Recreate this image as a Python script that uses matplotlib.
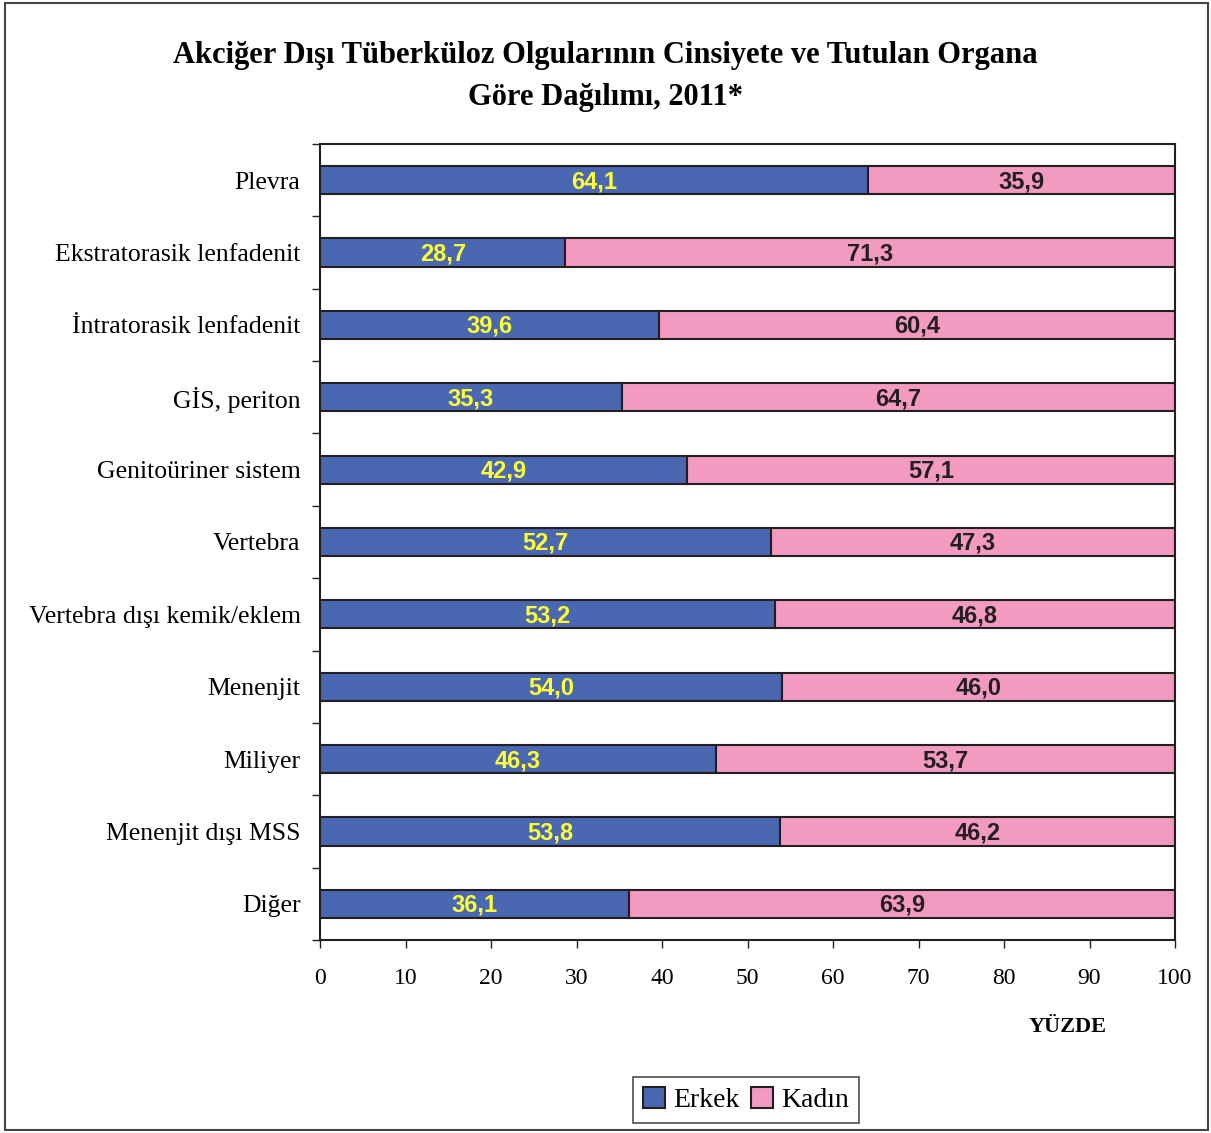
import matplotlib.pyplot as plt
import numpy as np
from matplotlib.patches import Rectangle

categories = [
    "Plevra",
    "Ekstratorasik lenfadenit",
    "İntratorasik lenfadenit",
    "GİS, periton",
    "Genitoüriner sistem",
    "Vertebra",
    "Vertebra dışı kemik/eklem",
    "Menenjit",
    "Miliyer",
    "Menenjit dışı MSS",
    "Diğer",
]
erkek = [64.1, 28.7, 39.6, 35.3, 42.9, 52.7, 53.2, 54.0, 46.3, 53.8, 36.1]
kadin = [35.9, 71.3, 60.4, 64.7, 57.1, 47.3, 46.8, 46.0, 53.7, 46.2, 63.9]
xticks = [0, 10, 20, 30, 40, 50, 60, 70, 80, 90, 100]

blue = "#4a67b2"
pink = "#f39ac1"

fig = plt.figure(figsize=(12.11, 11.33), dpi=100)
ax = fig.add_axes([320 / 1211, 1 - 940 / 1133, 855 / 1211, 796 / 1133])

y = np.arange(len(categories))
h = 0.39
ax.barh(y, erkek, height=h, color=blue, edgecolor="#231f20", linewidth=1.5, label="Erkek")
ax.barh(y, kadin, left=erkek, height=h, color=pink, edgecolor="#231f20", linewidth=1.5, label="Kadın")

# value labels inside each segment
for i in range(len(categories)):
    ax.text(erkek[i] / 2, y[i] + 0.02, f"{erkek[i]:.1f}".replace(".", ","), ha="center", va="center",
            color="#ffff33", fontsize=17, fontweight="bold", family="Liberation Sans")
    ax.text(erkek[i] + kadin[i] / 2, y[i] + 0.02, f"{kadin[i]:.1f}".replace(".", ","), ha="center", va="center",
            color="#231f20", fontsize=17, fontweight="bold", family="Liberation Sans")

ax.set_xlim(0, 100)
ax.set_ylim(len(categories) - 0.5, -0.5)
ax.set_xticks(xticks)
ax.set_xticklabels([str(t) for t in xticks], family="Liberation Serif", fontsize=17)
ax.set_yticks(y)
ax.set_yticklabels(categories, family="Liberation Serif", fontsize=18.5)
ax.set_yticks(np.arange(len(categories) + 1) - 0.5, minor=True)
ax.tick_params(axis="y", which="major", length=0, pad=14)
ax.tick_params(axis="y", which="minor", length=6, width=1, color="#231f20")
ax.tick_params(axis="x", length=6, width=1, color="#231f20", pad=14)
for s in ax.spines.values():
    s.set_linewidth(1.5)
    s.set_color("#231f20")

fig.text(0.5, 1 - 55 / 1133, "Akciğer Dışı Tüberküloz Olgularının Cinsiyete ve Tutulan Organa",
         ha="center", va="center", family="Liberation Serif", fontweight="bold", fontsize=22)
fig.text(0.5, 1 - 97 / 1133, "Göre Dağılımı, 2011*",
         ha="center", va="center", family="Liberation Serif", fontweight="bold", fontsize=22)
fig.text(1068 / 1211, 1 - 1027 / 1133, "YÜZDE", ha="center", va="center",
         family="Liberation Serif", fontweight="bold", fontsize=16)

leg = fig.legend(loc="center", bbox_to_anchor=(746 / 1211, 1 - 1100 / 1133), ncol=2,
                 frameon=True, fancybox=False, edgecolor="#231f20",
                 prop={"family": "Liberation Serif", "size": 20},
                 handlelength=0.8, handleheight=0.8, handletextpad=0.3, columnspacing=0.4,
                 borderpad=0.35)
leg.get_frame().set_linewidth(1.2)

# outer frame around the whole chart
fig.patches.append(Rectangle((5 / 1211, 3 / 1133), 1203 / 1211, 1127 / 1133, transform=fig.transFigure,
                             fill=False, edgecolor="#444444", linewidth=1.5))

fig.savefig("out.png", dpi=100)
